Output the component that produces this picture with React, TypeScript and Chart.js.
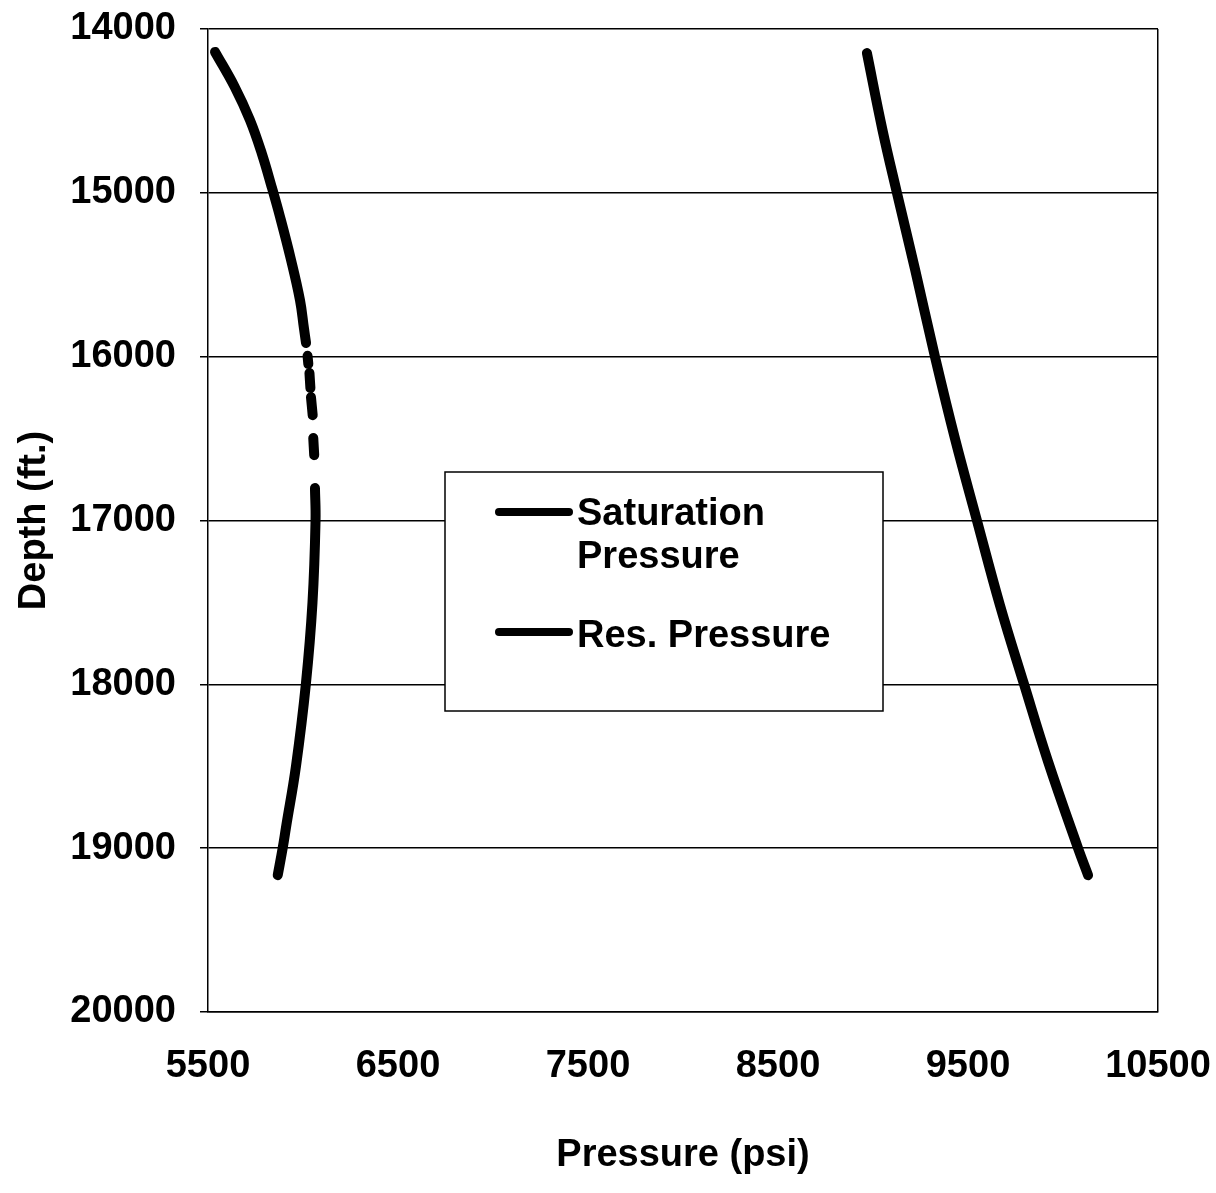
import React, { useEffect, useRef } from "react";
import { Chart, registerables } from "chart.js";

Chart.register(...registerables);

// Saturation pressure curve (psi vs depth ft); null entries mark gaps (dashed stretch)
const satPressure: (number | null)[] = [
  5537, 5640, 5721, 5783, 5835, 5879, 5935, 5984, 6005, 6016, null,
  6024, 6028, null,
  6034, 6039, null,
  6042, 6051, null,
  6054, 6059, null,
  6063, 6066, 6050, 6015, 5963, 5911, 5893, 5867,
];
const satDepth: (number | null)[] = [
  14140, 14352, 14556, 14759, 14963, 15146, 15400, 15654, 15827, 15917, null,
  15995, 16045, null,
  16100, 16192, null,
  16247, 16357, null,
  16497, 16601, null,
  16802, 17000, 17500, 18000, 18500, 18870, 19000, 19165,
];

// Reservoir pressure curve
const resPressure: number[] = [8968, 9050, 9126, 9221, 9326, 9432, 9547, 9668, 9795, 9921, 10079, 10132];
const resDepth: number[] = [14147, 14617, 15000, 15466, 16000, 16503, 17000, 17516, 18000, 18470, 19000, 19165];

const xTickValues: number[] = [5500, 6500, 7500, 8500, 9500, 10500];
const yTickValues: number[] = [14000, 15000, 16000, 17000, 18000, 19000, 20000];

const seriesNames: string[] = ["Saturation", "Pressure", "Res. Pressure"];
const xTitle = "Pressure (psi)";
const yTitle = "Depth (ft.)";

const FONT = "'Liberation Sans', Arial, sans-serif";

const legendPlugin = {
  id: "customLegend",
  afterDatasetsDraw(chart: any) {
    const ctx = chart.ctx as CanvasRenderingContext2D;
    const ca = chart.chartArea;
    const bx = ca.left + 237;
    const by = ca.top + 443;
    const bw = 438;
    const bh = 239;
    ctx.save();
    ctx.fillStyle = "#ffffff";
    ctx.fillRect(bx, by, bw, bh);
    ctx.strokeStyle = "#000000";
    ctx.lineWidth = 1.5;
    ctx.strokeRect(bx, by, bw, bh);

    ctx.lineWidth = 8;
    ctx.lineCap = "round";
    const lx1 = ca.left + 291;
    const lx2 = ca.left + 361;
    [ca.top + 483, ca.top + 603].forEach((y) => {
      ctx.beginPath();
      ctx.moveTo(lx1, y);
      ctx.lineTo(lx2, y);
      ctx.stroke();
    });

    ctx.fillStyle = "#000000";
    ctx.font = `bold 38px ${FONT}`;
    ctx.textAlign = "left";
    ctx.textBaseline = "alphabetic";
    const tx = ca.left + 369;
    ctx.fillText(seriesNames[0], tx, ca.top + 496);
    ctx.fillText(seriesNames[1], tx, ca.top + 539);
    ctx.fillText(seriesNames[2], tx, ca.top + 618);
    ctx.restore();
  },
};

export default function App() {
  const canvasRef = useRef<HTMLCanvasElement | null>(null);

  useEffect(() => {
    if (!canvasRef.current) return;
    const satData = satPressure.map((p, i) => ({ x: p, y: satDepth[i] }));
    const resData = resPressure.map((p, i) => ({ x: p, y: resDepth[i] }));

    const chart = new Chart(canvasRef.current, {
      type: "line",
      data: {
        datasets: [
          {
            label: "Saturation Pressure",
            data: satData as any,
            borderColor: "#000000",
            borderWidth: 10,
            borderCapStyle: "round",
            borderJoinStyle: "round",
            pointRadius: 0,
            tension: 0.4,
            spanGaps: false,
            fill: false,
          },
          {
            label: "Res. Pressure",
            data: resData as any,
            borderColor: "#000000",
            borderWidth: 10,
            borderCapStyle: "round",
            borderJoinStyle: "round",
            pointRadius: 0,
            tension: 0.4,
            fill: false,
          },
        ],
      },
      options: {
        animation: false,
        responsive: true,
        maintainAspectRatio: false,
        layout: { padding: { top: 29, right: 58, left: 0, bottom: 0 } },
        plugins: {
          legend: { display: false },
          tooltip: { enabled: false },
        },
        scales: {
          x: {
            type: "linear",
            min: 5500,
            max: 10500,
            afterBuildTicks: (s: any) => {
              s.ticks = xTickValues.map((v) => ({ value: v }));
            },
            afterFit: (s: any) => {
              s.height = 181;
              s.paddingLeft = 0;
              s.paddingRight = 0;
              s.paddingTop = 0;
              s.paddingBottom = 0;
            },
            grid: {
              drawTicks: false,
              lineWidth: 1.5,
              color: (c: any) => (c.tick && c.tick.value === 10500 ? "#000000" : "rgba(0,0,0,0)"),
            },
            border: { display: true, color: "#000000", width: 1.5 },
            ticks: {
              color: "#000000",
              font: { family: FONT, size: 38, weight: "bold" },
              padding: 32,
              maxRotation: 0,
              callback: (v: any) => String(v),
            },
            title: {
              display: true,
              text: xTitle,
              color: "#000000",
              font: { family: FONT, size: 38, weight: "bold" },
              padding: { top: 0, bottom: 15 },
            },
          },
          y: {
            type: "linear",
            reverse: true,
            min: 14000,
            max: 20000,
            afterBuildTicks: (s: any) => {
              s.ticks = yTickValues.map((v) => ({ value: v }));
            },
            afterFit: (s: any) => {
              s.width = 208;
              s.paddingLeft = 0;
              s.paddingRight = 0;
              s.paddingTop = 0;
              s.paddingBottom = 0;
            },
            grid: {
              color: "#000000",
              lineWidth: 1.5,
              drawTicks: true,
              tickLength: 8,
            },
            border: { display: true, color: "#000000", width: 1.5 },
            ticks: {
              color: "#000000",
              font: { family: FONT, size: 38, weight: "bold" },
              padding: 24,
              callback: (v: any) => String(v),
            },
            title: {
              display: true,
              text: yTitle,
              color: "#000000",
              font: { family: FONT, size: 38, weight: "bold" },
              padding: { top: 12, bottom: 0 },
            },
          },
        },
      },
      plugins: [legendPlugin],
    });

    return () => {
      chart.destroy();
    };
  }, []);

  return (
    <div
      style={{
        position: "absolute",
        left: 0,
        top: 0,
        width: "1216px",
        height: "1193px",
        background: "#ffffff",
      }}
    >
      <canvas ref={canvasRef} />
    </div>
  );
}
